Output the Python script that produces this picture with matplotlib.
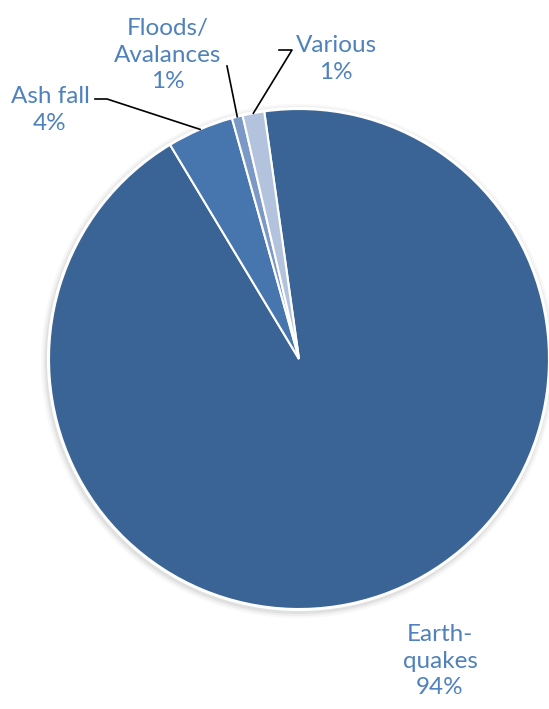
import matplotlib.pyplot as plt
import numpy as np
from matplotlib.patches import Circle

# slice data (clockwise from the Earthquakes slice)
labels = ['Earth-\nquakes', 'Ash fall', 'Floods/\nAvalances', 'Various']
values = [93.6, 4.3, 0.7, 1.4]
colors = ['#3b6496', '#4776ae', '#7b98c6', '#b3c3de']

W, H = 549, 709
fig = plt.figure(figsize=(W / 100, H / 100), dpi=100)
ax = fig.add_axes([0, 0, 1, 1])

cx, cy, R = 299, H - 359, 250

# soft shadow around the pie
for k, a in zip([7, 5, 3], [0.05, 0.08, 0.12]):
    ax.add_patch(Circle((cx - 1, cy - 2), R + k, color='#7f7f7f', alpha=a, lw=0, zorder=1))

wedges, _ = ax.pie(values, colors=colors, startangle=98, counterclock=False,
                   center=(cx, cy), radius=R, frame=True,
                   wedgeprops=dict(edgecolor='white', linewidth=1.5, zorder=2))
ax.add_patch(Circle((cx, cy), R + 1, fill=False, edgecolor='white', lw=1.5, zorder=3))
ax.set_xlim(0, W)
ax.set_ylim(0, H)
ax.set_aspect('equal')
ax.axis('off')

# label layout: text centre, leader start/elbow (pixel coords from top)
text_pos = {0: (440, 661), 1: (50, 110), 2: (168, 55), 3: (336, 59)}
leaders = {1: [(95, 99), (107, 99)], 2: [(227, 66)], 3: [(279, 50), (292, 50)]}

txt_color = '#4f81bd'
for i, w in enumerate(wedges):
    tx, ty = text_pos[i]
    ax.text(tx, H - ty, f'{labels[i]}\n{values[i]:.0f}%', ha='center', va='center',
            fontsize=17.5, color=txt_color, family='Lato', linespacing=1.32, zorder=5)
    if i in leaders:
        mid = np.deg2rad((w.theta1 + w.theta2) / 2)
        ex, ey = cx + R * np.cos(mid), cy + R * np.sin(mid)
        pts = [(x, H - y) for x, y in leaders[i]] + [(ex, ey)]
        xs, ys = zip(*pts)
        ax.plot(xs, ys, color='black', lw=1.2, zorder=4)

fig.savefig('out.png', dpi=100, facecolor='white')
